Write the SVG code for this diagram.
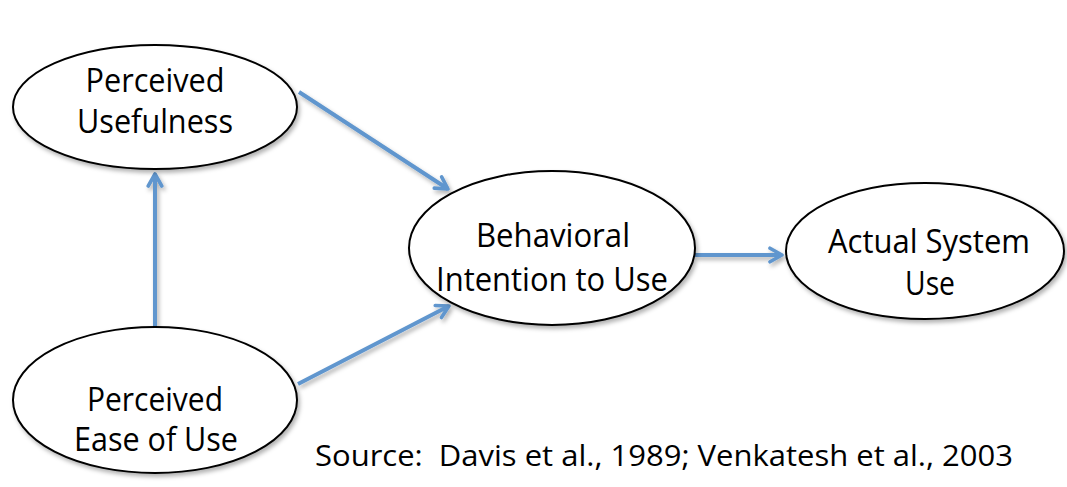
<svg xmlns="http://www.w3.org/2000/svg" width="1067" height="487" viewBox="0 0 1067 487">
  <style>
    .node { fill: #ffffff; stroke: #000000; stroke-width: 2; }
    .lbl { font-family: "Open Sans", "Liberation Sans", sans-serif; font-size: 32px; fill: #000000; text-anchor: middle; }
    .src { font-family: "Open Sans", "Liberation Sans", sans-serif; font-size: 30px; fill: #000000; }
    .edge { stroke: #6096CE; stroke-width: 4; fill: none; marker-end: url(#arrow); }
  </style>
  <defs>
    <filter id="shadow" x="-10%" y="-10%" width="130%" height="130%">
      <feDropShadow dx="2" dy="3" stdDeviation="2" flood-color="#000000" flood-opacity="0.3"/>
    </filter>
    <marker id="arrow" viewBox="0 0 12 12" refX="10" refY="6" markerWidth="4.5" markerHeight="4.5" markerUnits="strokeWidth" orient="auto">
      <polyline points="2,1.5 10,6 2,10.5" fill="none" stroke="#6096CE" stroke-width="2.4" stroke-linecap="round" stroke-linejoin="round"/>
    </marker>
  </defs>
  <rect width="1067" height="487" fill="#ffffff"/>

  <g id="connectors" filter="url(#shadow)">
    <line class="edge" x1="299" y1="92" x2="448" y2="189"/>
    <line class="edge" x1="298" y1="384" x2="449" y2="306"/>
    <line class="edge" x1="695" y1="255" x2="782" y2="255"/>
    <line class="edge" x1="155" y1="327" x2="155" y2="174"/>
  </g>

  <g id="perceived-usefulness">
    <ellipse class="node" cx="155" cy="107" rx="142" ry="62" filter="url(#shadow)"/>
    <text class="lbl" x="155" y="92" textLength="139" lengthAdjust="spacingAndGlyphs">Perceived</text>
    <text class="lbl" x="155" y="133" textLength="156" lengthAdjust="spacingAndGlyphs">Usefulness</text>
  </g>

  <g id="perceived-ease-of-use">
    <ellipse class="node" cx="155" cy="400" rx="142" ry="73" filter="url(#shadow)"/>
    <text class="lbl" x="155" y="411" textLength="136" lengthAdjust="spacingAndGlyphs">Perceived</text>
    <text class="lbl" x="156" y="451" textLength="164" lengthAdjust="spacingAndGlyphs">Ease of Use</text>
  </g>

  <g id="behavioral-intention">
    <ellipse class="node" cx="552" cy="248" rx="143" ry="77" filter="url(#shadow)"/>
    <text class="lbl" x="553" y="247" textLength="154" lengthAdjust="spacingAndGlyphs">Behavioral</text>
    <text class="lbl" x="552" y="291" textLength="232" lengthAdjust="spacingAndGlyphs">Intention to Use</text>
  </g>

  <g id="actual-system-use">
    <ellipse class="node" cx="925" cy="251" rx="139" ry="68" filter="url(#shadow)"/>
    <text class="lbl" x="929" y="253" textLength="202" lengthAdjust="spacingAndGlyphs">Actual System</text>
    <text class="lbl" x="930" y="295" textLength="50" lengthAdjust="spacingAndGlyphs">Use</text>
  </g>

  <text class="src" x="315" y="466" textLength="698" lengthAdjust="spacingAndGlyphs" xml:space="preserve">Source:  Davis et al., 1989; Venkatesh et al., 2003</text>
</svg>
